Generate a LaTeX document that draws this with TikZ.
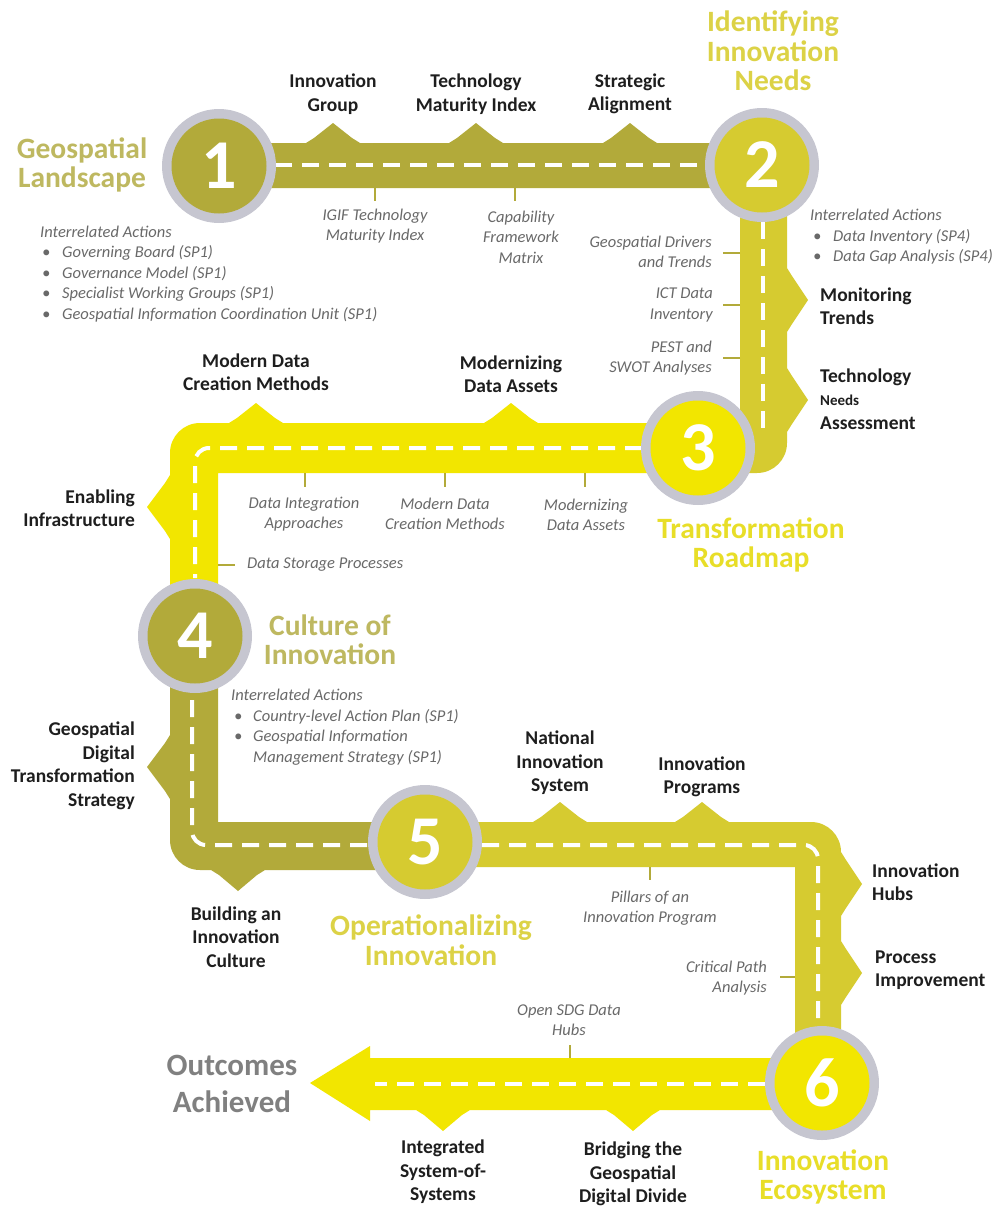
\documentclass[tikz,border=0pt]{standalone}
\usepackage{fontspec}
\setmainfont{Carlito}
\definecolor{roadolive}{RGB}{178,170,58}
\definecolor{roadmid}{RGB}{214,203,48}
\definecolor{roadyel}{RGB}{242,230,0}
\definecolor{ringgrey}{RGB}{198,198,208}
\definecolor{txtgrey}{RGB}{105,105,105}
\definecolor{txtblack}{RGB}{30,30,30}
\definecolor{ttlolive}{RGB}{190,184,96}
\definecolor{ttlyel}{RGB}{232,222,40}
\definecolor{ttlmid}{RGB}{220,210,70}
\definecolor{outgrey}{RGB}{128,128,128}
\tikzset{
 upR/.style 2 args={insert path={-- (#1-27,#2) -- (#1-19,#2-5) -- (#1,#2-20) -- (#1+19,#2-5) -- (#1+27,#2)}},
 upL/.style 2 args={insert path={-- (#1+27,#2) -- (#1+19,#2-5) -- (#1,#2-20) -- (#1-19,#2-5) -- (#1-27,#2)}},
 dnR/.style 2 args={insert path={-- (#1-27,#2) -- (#1-19,#2+5) -- (#1,#2+21) -- (#1+19,#2+5) -- (#1+27,#2)}},
 dnL/.style 2 args={insert path={-- (#1+27,#2) -- (#1+19,#2+5) -- (#1,#2+21) -- (#1-19,#2+5) -- (#1-27,#2)}},
 rtD/.style 2 args={insert path={-- (#1,#2-32) -- (#1+5,#2-24) -- (#1+21,#2) -- (#1+5,#2+24) -- (#1,#2+32)}},
 ltD/.style 2 args={insert path={-- (#1,#2-32) -- (#1-5,#2-24) -- (#1-23,#2) -- (#1-5,#2+24) -- (#1,#2+32)}},
 lane/.style={draw=white, line width=4pt, dash pattern=on 17pt off 10pt, rounded corners=14pt},
 tickline/.style={draw=roadolive, line width=2pt},
 ring/.style={circle, fill=ringgrey, minimum size=114pt, inner sep=0pt},
 disc/.style={circle, minimum size=95pt, inner sep=0pt, text=white, font=\fontsize{70}{70}\selectfont\bfseries},
 blk/.style={font=\fontsize{19.5}{23.5}\selectfont\bfseries, text=txtblack, inner sep=0pt, align=center},
 itl/.style={font=\fontsize{16.5}{20.5}\selectfont\itshape, text=txtgrey, inner sep=0pt, align=center},
 ttl/.style={font=\fontsize{29.5}{29.5}\selectfont\bfseries, inner sep=0pt, align=center},
}
\begin{document}
\begin{tikzpicture}[x=1pt,y=-1pt]
\useasboundingbox[fill=white] (0,0) rectangle (994,1207);

% ---- roads ----
\fill[roadolive] (270,188) -- (270,143) [upR={333}{143}] [upR={476}{143}] [upR={630}{143}] -- (710,143) -- (710,188) -- cycle;
\fill[roadmid] (740,200) -- (787,200) [rtD={787}{300}] [rtD={787}{400}] -- (787,443) .. controls (787,459.6) and (773.6,473) .. (757,473) -- (690,473) -- (690,423) -- (740,423) -- cycle;
\fill[roadyel] (690,423) [upL={511}{423}] [upL={256}{423}] -- (200,423) .. controls (183.4,423) and (170,436.4) .. (170,453) [ltD={170}{507}] -- (170,600) -- (218,600) -- (218,473) -- (690,473) -- cycle;
\fill[roadolive] (170,660) [ltD={170}{767}] -- (170,840) .. controls (170,856.6) and (183.4,870) .. (200,870) [dnR={238}{870}] -- (430,870) -- (430,822) -- (218,822) -- (218,660) -- cycle;
\fill[roadmid] (430,822) [upR={560}{822}] [upR={702}{822}] -- (811,822) .. controls (827.6,822) and (841,835.4) .. (841,852) [rtD={841}{884}] [rtD={841}{973}] -- (841,1060) -- (795,1060) -- (795,867) -- (430,867) -- cycle;
\fill[roadyel] (830,1058) -- (830,1110) [dnL={633}{1110}] [dnL={443}{1110}] -- (370,1110) -- (370,1121) -- (310,1083) -- (370,1046) -- (370,1058) -- cycle;

% ---- lanes ----
\draw[lane] (275,165) -- (705,165);
\draw[lane] (763,222) -- (763,430);
\draw[lane] (642,448) -- (195,448) -- (195,578);
\draw[lane] (192,700) -- (192,845) -- (368,845);
\draw[lane] (482,845) -- (818,845) -- (818,1026);
\draw[lane] (765,1084) -- (375,1084);

% ---- ticks ----
\draw[tickline] (375,188) -- (375,201);
\draw[tickline] (515,188) -- (515,201);
\draw[tickline] (740,253) -- (723,253);
\draw[tickline] (740,305) -- (723,305);
\draw[tickline] (740,358) -- (723,358);
\draw[tickline] (305,473) -- (305,487);
\draw[tickline] (445,473) -- (445,487);
\draw[tickline] (585,473) -- (585,487);
\draw[tickline] (218,565) -- (235,565);
\draw[tickline] (650,867) -- (650,880);
\draw[tickline] (795,977) -- (780,977);
\draw[tickline] (570,1058) -- (570,1045);

% ---- circles ----
\node[ring] (c1) at (219,166) {};
\node[disc, fill=roadolive] (n1) at (c1) {1};
\node[ring] (c2) at (762,165) {};
\node[disc, fill=roadmid] (n2) at (c2) {2};
\node[ring] (c3) at (698,448) {};
\node[disc, fill=roadyel] (n3) at (c3) {3};
\node[ring] (c4) at (195,636) {};
\node[disc, fill=roadolive] (n4) at (c4) {4};
\node[ring] (c5) at (425,842) {};
\node[disc, fill=roadmid] (n5) at (c5) {5};
\node[ring] (c6) at (822,1083) {};
\node[disc, fill=roadyel] (n6) at (c6) {6};

% ---- titles ----
\node[ttl, text=ttlolive] (t1) at (82,165) {Geospatial\\Landscape};
\node[ttl, text=ttlmid] (t2) at (773,51) {Identifying\\Innovation\\Needs};
\node[ttl, text=ttlyel] (t3) at (751,545) {Transformation\\Roadmap};
\node[ttl, text=ttlolive] (t4) at (330,640) {Culture of\\Innovation};
\node[ttl, text=ttlmid] (t5) at (431,940) {Operationalizing\\Innovation};
\node[ttl, text=ttlyel] (t6) at (823,1177) {Innovation\\Ecosystem};
\node[ttl, text=outgrey, font=\fontsize{31}{37}\selectfont\bfseries] (t7) at (232,1084) {Outcomes\\Achieved};

% ---- black labels ----
\node[blk] (b1) at (333,94) {Innovation\\Group};
\node[blk] (b2) at (476,94) {Technology\\Maturity Index};
\node[blk] (b3) at (630,94) {Strategic\\Alignment};
\node[blk, align=left, anchor=west] (b4) at (820,306) {Monitoring\\Trends};
\node[blk, align=left, anchor=west] (b5) at (820,399) {Technology\\{\fontsize{15}{23.5}\selectfont Needs}\\Assessment};
\node[blk] (b6) at (256,372) {Modern Data\\Creation Methods};
\node[blk] (b7) at (511,374) {Modernizing\\Data Assets};
\node[blk, align=right, anchor=east] (b8) at (135,508) {Enabling\\Infrastructure};
\node[blk, align=right, anchor=east] (b9) at (135,766) {Geospatial\\Digital\\Transformation\\Strategy};
\node[blk] (b10) at (560,763) {National\\Innovation\\System};
\node[blk] (b11) at (702,777) {Innovation\\Programs};
\node[blk, align=left, anchor=west] (b12) at (872,882) {Innovation\\Hubs};
\node[blk] (b13) at (236,937) {Building an\\Innovation\\Culture};
\node[blk, align=left, anchor=west] (b14) at (875,970) {Process\\Improvement};
\node[blk] (b15) at (443,1172) {Integrated\\System-of-\\Systems};
\node[blk] (b16) at (633,1174) {Bridging the\\Geospatial\\Digital Divide};

% ---- italic labels ----
\node[itl] (i1) at (375,226) {IGIF Technology\\Maturity Index};
\node[itl] (i2) at (521,237) {Capability\\Framework\\Matrix};
\node[itl, align=right, anchor=east] (i3) at (712,252) {Geospatial Drivers\\and Trends};
\node[itl, align=right, anchor=east] (i4) at (713,305) {ICT Data\\Inventory};
\node[itl, align=right, anchor=east] (i5) at (712,358) {PEST and\\SWOT Analyses};
\node[itl] (i6) at (304,514) {Data Integration\\Approaches};
\node[itl] (i7) at (445,514) {Modern Data\\Creation Methods};
\node[itl] (i8) at (586,515) {Modernizing\\Data Assets};
\node[itl, anchor=west] (i9) at (247,565) {Data Storage Processes};
\node[itl] (i10) at (650,908) {Pillars of an\\Innovation Program};
\node[itl, align=right, anchor=east] (i11) at (767,978) {Critical Path\\Analysis};
\node[itl] (i12) at (569,1020) {Open SDG Data\\Hubs};

% ---- interrelated actions ----
\node[itl, align=left, anchor=west] (a1) at (40,274) {Interrelated Actions\\
\hspace*{2pt}\makebox[20pt][l]{•}Governing Board (SP1)\\
\hspace*{2pt}\makebox[20pt][l]{•}Governance Model (SP1)\\
\hspace*{2pt}\makebox[20pt][l]{•}Specialist Working Groups (SP1)\\
\hspace*{2pt}\makebox[20pt][l]{•}Geospatial Information Coordination Unit (SP1)};
\node[itl, align=left, anchor=west] (a2) at (810,237) {Interrelated Actions\\
\hspace*{3pt}\makebox[20pt][l]{•}Data Inventory (SP4)\\
\hspace*{3pt}\makebox[20pt][l]{•}Data Gap Analysis (SP4)};
\node[itl, align=left, anchor=west] (a4) at (231,727) {Interrelated Actions\\
\hspace*{3pt}\makebox[19pt][l]{•}Country-level Action Plan (SP1)\\
\hspace*{3pt}\makebox[19pt][l]{•}Geospatial Information\\
\hspace*{22pt}Management Strategy (SP1)};
\end{tikzpicture}
\end{document}
